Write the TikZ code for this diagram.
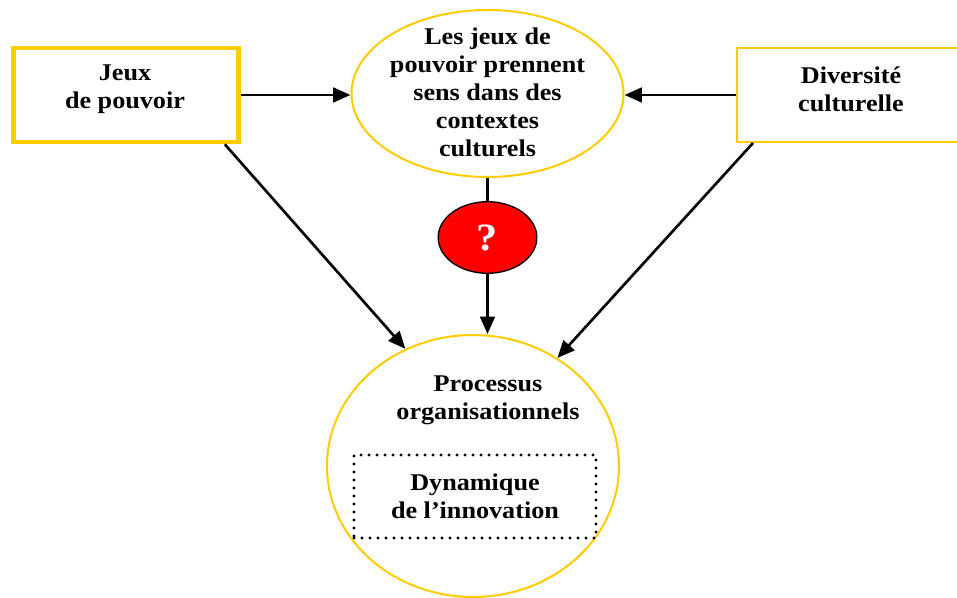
\documentclass[tikz,border=0pt]{standalone}
\usepackage{fontspec}
\setmainfont{Liberation Serif}[FakeStretch=1.09]
\usetikzlibrary{arrows.meta,shapes.geometric,calc}
\definecolor{gold}{HTML}{FFCC00}
\definecolor{redq}{HTML}{FF0000}
\begin{document}
\begin{tikzpicture}[x=0.75pt,y=-0.75pt,
  txt/.style={font=\bfseries\fontsize{18}{21}\selectfont, align=center, text=black, inner sep=0pt},
  arr/.style={line width=2pt, -{Triangle[length=13pt,width=11pt]}},
  link/.style={line width=2pt},
  goldbox/.style={draw=gold, rectangle, inner sep=0pt},
  goldell/.style={draw=gold, ellipse, line width=1.5pt, inner sep=0pt}]
\useasboundingbox (0,0) rectangle (957,598);
\fill[white] (0,0) rectangle (957,598);
\clip (0,0) rectangle (957,598);

\node[goldbox, line width=3.5pt, minimum width=168.75pt, minimum height=70.5pt] (jp) at (126,95) {};
\node[txt] (jpText) at (125,89) {Jeux\\de pouvoir};

\node[goldbox, line width=1.5pt, minimum width=171.75pt, minimum height=70.5pt] (div) at (851.5,95) {};
\node[txt] (divText) at (851,89) {Diversité\\culturelle};

\node[goldell, minimum width=204pt, minimum height=125.25pt] (top) at (487.5,93.5) {};
\node[txt] (topText) at (487.5,92) {Les jeux de\\pouvoir prennent\\sens dans des\\contextes\\culturels};

\node[ellipse, draw=black, fill=redq, line width=1pt, minimum width=74pt, minimum height=53.7pt, inner sep=0pt,
      text=white, font=\bfseries\fontsize{29}{30}\selectfont] (q) at (487.5,237.5) {?};

\node[goldell, minimum width=219pt, minimum height=196.5pt] (big) at (473,466) {};
\node[txt] (proc) at (488,400) {Processus\\organisationnels};
\node[txt, draw=black, line width=2.6pt, dash pattern=on 0pt off 6pt, line cap=round,
      minimum width=181.5pt, minimum height=62.25pt] (dyn) at (475,496.5) {Dynamique\\de l’innovation};

\draw[arr] (jp.east) -- (jp.east -| top.west);
\draw[arr] (div.west) -- (div.west -| top.east);
\draw[link] (top.south) -- (q.north);
\draw[arr] (q.south) -- (q.south |- big.north);
\draw[arr] ([xshift=-12pt]jp.south east) -- (big.120);
\draw[arr] ([xshift=12.75pt]div.south west) -- (big.52);
\end{tikzpicture}
\end{document}
